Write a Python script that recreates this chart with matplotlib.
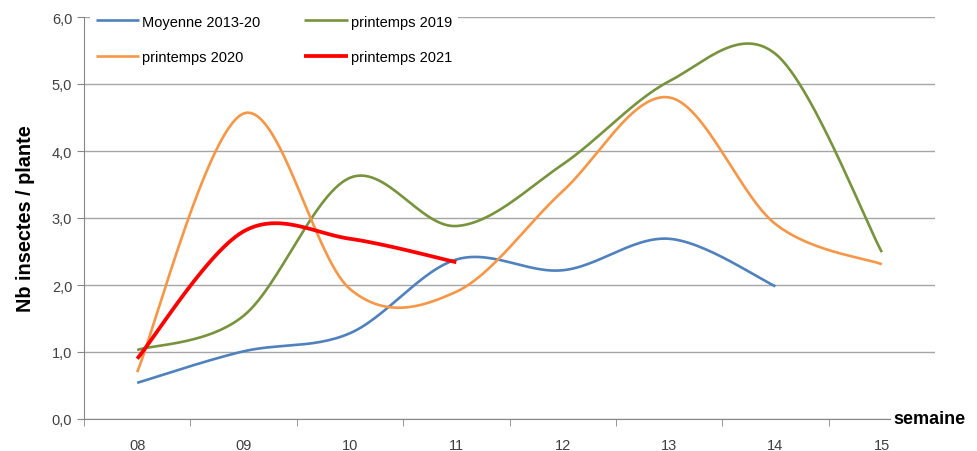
import numpy as np
import matplotlib
matplotlib.use('Agg')
import matplotlib.pyplot as plt
from matplotlib.ticker import FuncFormatter, FixedLocator

plt.rcParams['font.family'] = ['Liberation Sans', 'DejaVu Sans']

semaines = ['08', '09', '10', '11', '12', '13', '14', '15']
moyenne = [0.54, 1.01, 1.28, 2.38, 2.22, 2.69, 1.98]
print2019 = [1.03, 1.54, 3.60, 2.88, 3.80, 5.04, 5.45, 2.49]
print2020 = [0.70, 4.56, 1.94, 1.90, 3.40, 4.80, 2.91, 2.31]
print2021 = [0.90, 2.80, 2.69, 2.34]

series = [
    ('Moyenne 2013-20', moyenne, '#4F81BD', 1.9),
    ('printemps 2019', print2019, '#77933C', 1.9),
    ('printemps 2020', print2020, '#F79646', 1.9),
    ('printemps 2021', print2021, '#FF0000', 2.7),
]


def lisser(y, n=30):
    # courbe lissee facon tableur (bezier type catmull-rom)
    x = np.arange(len(y), dtype=float)
    y = np.asarray(y, dtype=float)
    pts = np.column_stack([x, y])
    out = []
    for i in range(len(pts) - 1):
        p0 = pts[i - 1] if i > 0 else pts[i]
        p1 = pts[i]
        p2 = pts[i + 1]
        p3 = pts[i + 2] if i + 2 < len(pts) else pts[i + 1]
        c1 = p1 + (p2 - p0) / 6
        c2 = p2 - (p3 - p1) / 6
        t = np.linspace(0, 1, n)[:, None]
        seg = ((1 - t) ** 3) * p1 + 3 * ((1 - t) ** 2) * t * c1 + 3 * (1 - t) * t ** 2 * c2 + t ** 3 * p2
        out.append(seg if i == 0 else seg[1:])
    seg = np.vstack(out)
    return seg[:, 0], seg[:, 1]


fig = plt.figure(figsize=(9.77, 4.52), dpi=100)
ax = fig.add_axes([84 / 977, 1 - 420 / 452, (935 - 84) / 977, (420 - 18) / 452])

lignes = {}
for nom, vals, coul, lw in series:
    xs, ys = lisser(vals)
    lignes[nom], = ax.plot(xs, ys, color=coul, lw=lw, label=nom, solid_capstyle='butt', zorder=3)

ax.set_xlim(-0.5, len(semaines) - 0.5)
ax.set_ylim(0, 6)
ax.set_yticks(np.arange(0, 6.1, 1))
ax.yaxis.set_major_formatter(FuncFormatter(lambda v, p: f'{v:.1f}'.replace('.', ',')))
ax.grid(axis='y', color='#a6a6a6', lw=1)
ax.set_axisbelow(True)

ax.set_xticks(np.arange(len(semaines)))
ax.set_xticklabels(semaines)
ax.xaxis.set_minor_locator(FixedLocator(np.arange(-0.5, len(semaines), 1)))
ax.tick_params(axis='x', which='major', length=0, pad=14, labelsize=10.5, colors='#404040')
ax.tick_params(axis='x', which='minor', length=5, color='#868686', direction='out')
ax.tick_params(axis='y', length=5, color='#868686', labelsize=10.5, labelcolor='#404040')

for s in ['top', 'right']:
    ax.spines[s].set_visible(False)
for s in ['left', 'bottom']:
    ax.spines[s].set_color('#868686')

ax.set_ylabel('Nb insectes / plante', fontsize=14.3, fontweight='bold', labelpad=12)

fig.text(893 / 977, 1 - 419 / 452, 'semaine', fontsize=13, fontweight='bold',
         va='center', ha='left', bbox=dict(facecolor='white', edgecolor='none', pad=1.5))

# legende sur deux colonnes, remplie ligne par ligne
ordre = ['Moyenne 2013-20', 'printemps 2020', 'printemps 2019', 'printemps 2021']
leg = ax.legend([lignes[k] for k in ordre], ordre, ncol=2, loc='upper left',
                bbox_to_anchor=(0.0, 1.035), frameon=True,
                fontsize=10.5, handlelength=3.0, columnspacing=3.0, labelspacing=1.45,
                handletextpad=0.2, borderaxespad=0.4)
leg.get_frame().set_facecolor('white')
leg.get_frame().set_edgecolor('none')
leg.get_frame().set_alpha(1)

fig.savefig('out.png', dpi=100)
